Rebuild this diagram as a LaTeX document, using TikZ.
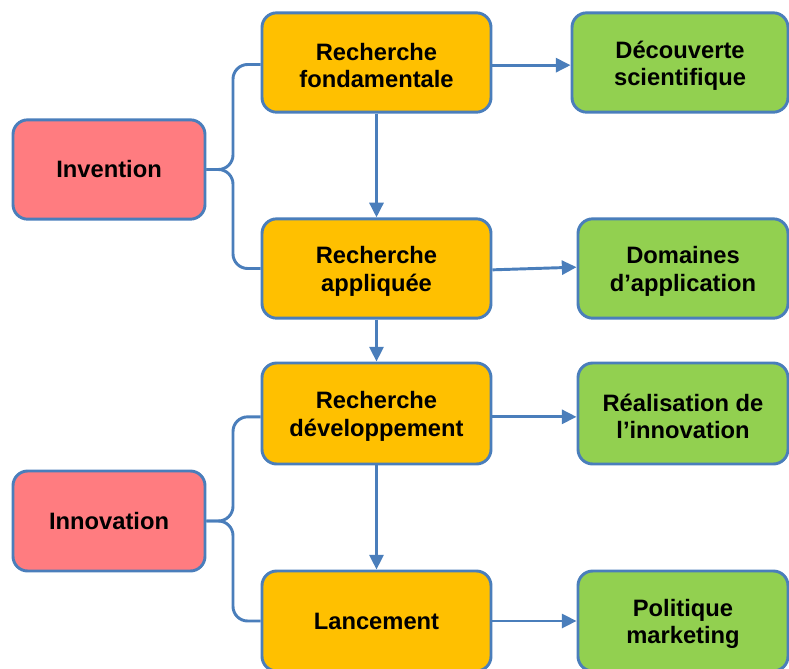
\documentclass[tikz,border=0pt]{standalone}
\usepackage{fontspec}
\setmainfont{Liberation Sans}
\usetikzlibrary{arrows.meta}
\definecolor{edgeblue}{HTML}{4A7EBB}
\definecolor{boxorange}{HTML}{FFC000}
\definecolor{boxgreen}{HTML}{92D050}
\definecolor{boxred}{HTML}{FF7C80}
\begin{document}
\begin{tikzpicture}[x=0.75pt,y=-0.75pt,
  boxtext/.style={align=center, inner sep=0pt, text=black,
    font=\fontsize{17.8}{20.5}\selectfont\bfseries},
  box/.style={draw=edgeblue, line width=2.2pt, rounded corners=11pt,
    boxtext, inner sep=2pt},
  % two-line captions sit slightly below the box centre
  caption/.style={label={[boxtext, yshift=-2.2pt]center:#1}},
  rootbox/.style={box, fill=boxred, minimum width=144pt, minimum height=74.5pt},
  stagebox/.style={box, fill=boxorange, minimum width=171.75pt, minimum height=74.5pt},
  resultbox/.style={box, fill=boxgreen, minimum height=74.5pt},
  link/.style={draw=edgeblue, line width=2.2pt},
  arrow/.style={link, -{Triangle[length=11pt,width=10.5pt]}},
  brace/.style={link, rounded corners=11pt}]
\useasboundingbox (0,0) rectangle (789,668);

% left-hand concepts
\node[rootbox] (inv) at (109,169.5) {Invention};
\node[rootbox, minimum height=75pt] (inn) at (109,521) {Innovation};

% research stages
\node[stagebox, caption={Recherche\\fondamentale}] (rf) at (376.5,62.5) {};
\node[stagebox, caption={Recherche\\appliquée}] (ra) at (376.5,268.5) {};
\node[stagebox, minimum height=75.75pt, caption={Recherche\\développement}] (rd) at (376.5,413.5) {};
\node[stagebox, minimum height=75pt] (la) at (376.5,621) {Lancement};

% outcomes
\node[resultbox, minimum width=162pt, caption={Découverte\\scientifique}] (ds) at (680,62.5) {};
\node[resultbox, minimum width=157.5pt, caption={Domaines\\d’application}] (da) at (683,268.5) {};
\node[resultbox, minimum width=157.5pt, minimum height=75.75pt, caption={Réalisation de\\l’innovation}] (ri) at (683,413.5) {};
\node[resultbox, minimum width=157.5pt, minimum height=75pt, caption={Politique\\marketing}] (pm) at (683,621) {};

% branching connectors
\coordinate (b1) at (233,169.5);
\coordinate (b2) at (233,521);
\draw[brace] (inv.east) -- (b1) |- ([yshift=-1.5pt]rf.west);
\draw[brace] (inv.east) -- (b1) |- (ra.west);
\draw[brace] (inn.east) -- (b2) |- ([yshift=-2.5pt]rd.west);
\draw[brace] (inn.east) -- (b2) |- (la.west);

% vertical flow
\draw[arrow] (rf.south) -- (ra.north);
\draw[arrow] (ra.south) -- (rd.north);
\draw[arrow] (rd.south) -- (la.north);

% towards the outcomes
\draw[arrow] ([yshift=-2pt]rf.east) -- ([yshift=-2pt]rf.east -| ds.west);
\draw[arrow] ([yshift=-1pt]ra.east) -- ([yshift=1pt]da.west);
\draw[arrow] ([yshift=-2.5pt]rd.east) -- ([yshift=-2.5pt]rd.east -| ri.west);
\draw[arrow] (la.east) -- (pm.west);
\end{tikzpicture}
\end{document}
